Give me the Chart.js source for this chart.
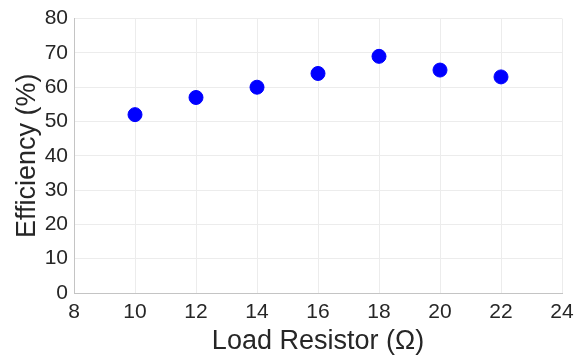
<!DOCTYPE html>
<html>
<head>
<meta charset="utf-8">
<script src="https://cdn.jsdelivr.net/npm/chart.js@4"></script>
<style>
  html, body { margin: 0; padding: 0; background: #fff; }
  #wrap { width: 587px; height: 360px; }
</style>
</head>
<body>
<div id="wrap"><canvas id="chart" width="587" height="360"></canvas></div>
<script>
// load resistance (ohm) vs measured efficiency (%)
const resistors = [10, 12, 14, 16, 18, 20, 22];
const efficiency = [52, 57, 60, 64, 69, 65, 63];
const xTicks = [8, 10, 12, 14, 16, 18, 20, 22, 24];
const yTicks = [0, 10, 20, 30, 40, 50, 60, 70, 80];

const points = resistors.map((r, i) => ({ x: r, y: efficiency[i] }));

const tickFont = { family: 'Liberation Sans, Arial, sans-serif', size: 21 };
const titleFont = { family: 'Liberation Sans, Arial, sans-serif', size: 27 };

const ctx = document.getElementById('chart').getContext('2d');
const chart = new Chart(ctx, {
    type: 'scatter',
    data: {
        datasets: [
            {
                data: points,
                backgroundColor: '#0000ff',
                borderColor: '#0000ff',
                pointRadius: 7,
                pointHoverRadius: 7,
            },
        ],
    },
    options: {
        responsive: false,
        animation: false,
        layout: { padding: { top: 15, right: 25, left: 0, bottom: 0 } },
        plugins: {
            legend: { display: false },
            tooltip: { enabled: false },
        },
        scales: {
            x: {
                type: 'linear',
                min: 8,
                max: 24,
                afterBuildTicks: (axis) => { axis.ticks = xTicks.map(v => ({ value: v })); },
                afterFit: (axis) => { axis.height = 67; },
                grid: { color: '#ececec', drawTicks: false },
                border: { display: true, color: '#c4c4c4' },
                ticks: { font: tickFont, color: '#262626', padding: 7, maxRotation: 0 },
                title: {
                    display: true,
                    text: 'Load Resistor (Ω)',
                    font: titleFont,
                    color: '#262626',
                    padding: { top: 0, bottom: 2 },
                },
            },
            y: {
                type: 'linear',
                min: 0,
                max: 80,
                afterBuildTicks: (axis) => { axis.ticks = yTicks.map(v => ({ value: v })); },
                afterFit: (axis) => { axis.width = 74; },
                grid: { color: '#ececec', drawTicks: false },
                border: { display: true, color: '#c4c4c4' },
                ticks: { font: tickFont, color: '#262626', padding: 6 },
                title: {
                    display: true,
                    text: 'Efficiency (%)',
                    font: titleFont,
                    color: '#262626',
                    padding: { top: 11, bottom: 0 },
                },
            },
        },
    },
});
</script>
</body>
</html>
